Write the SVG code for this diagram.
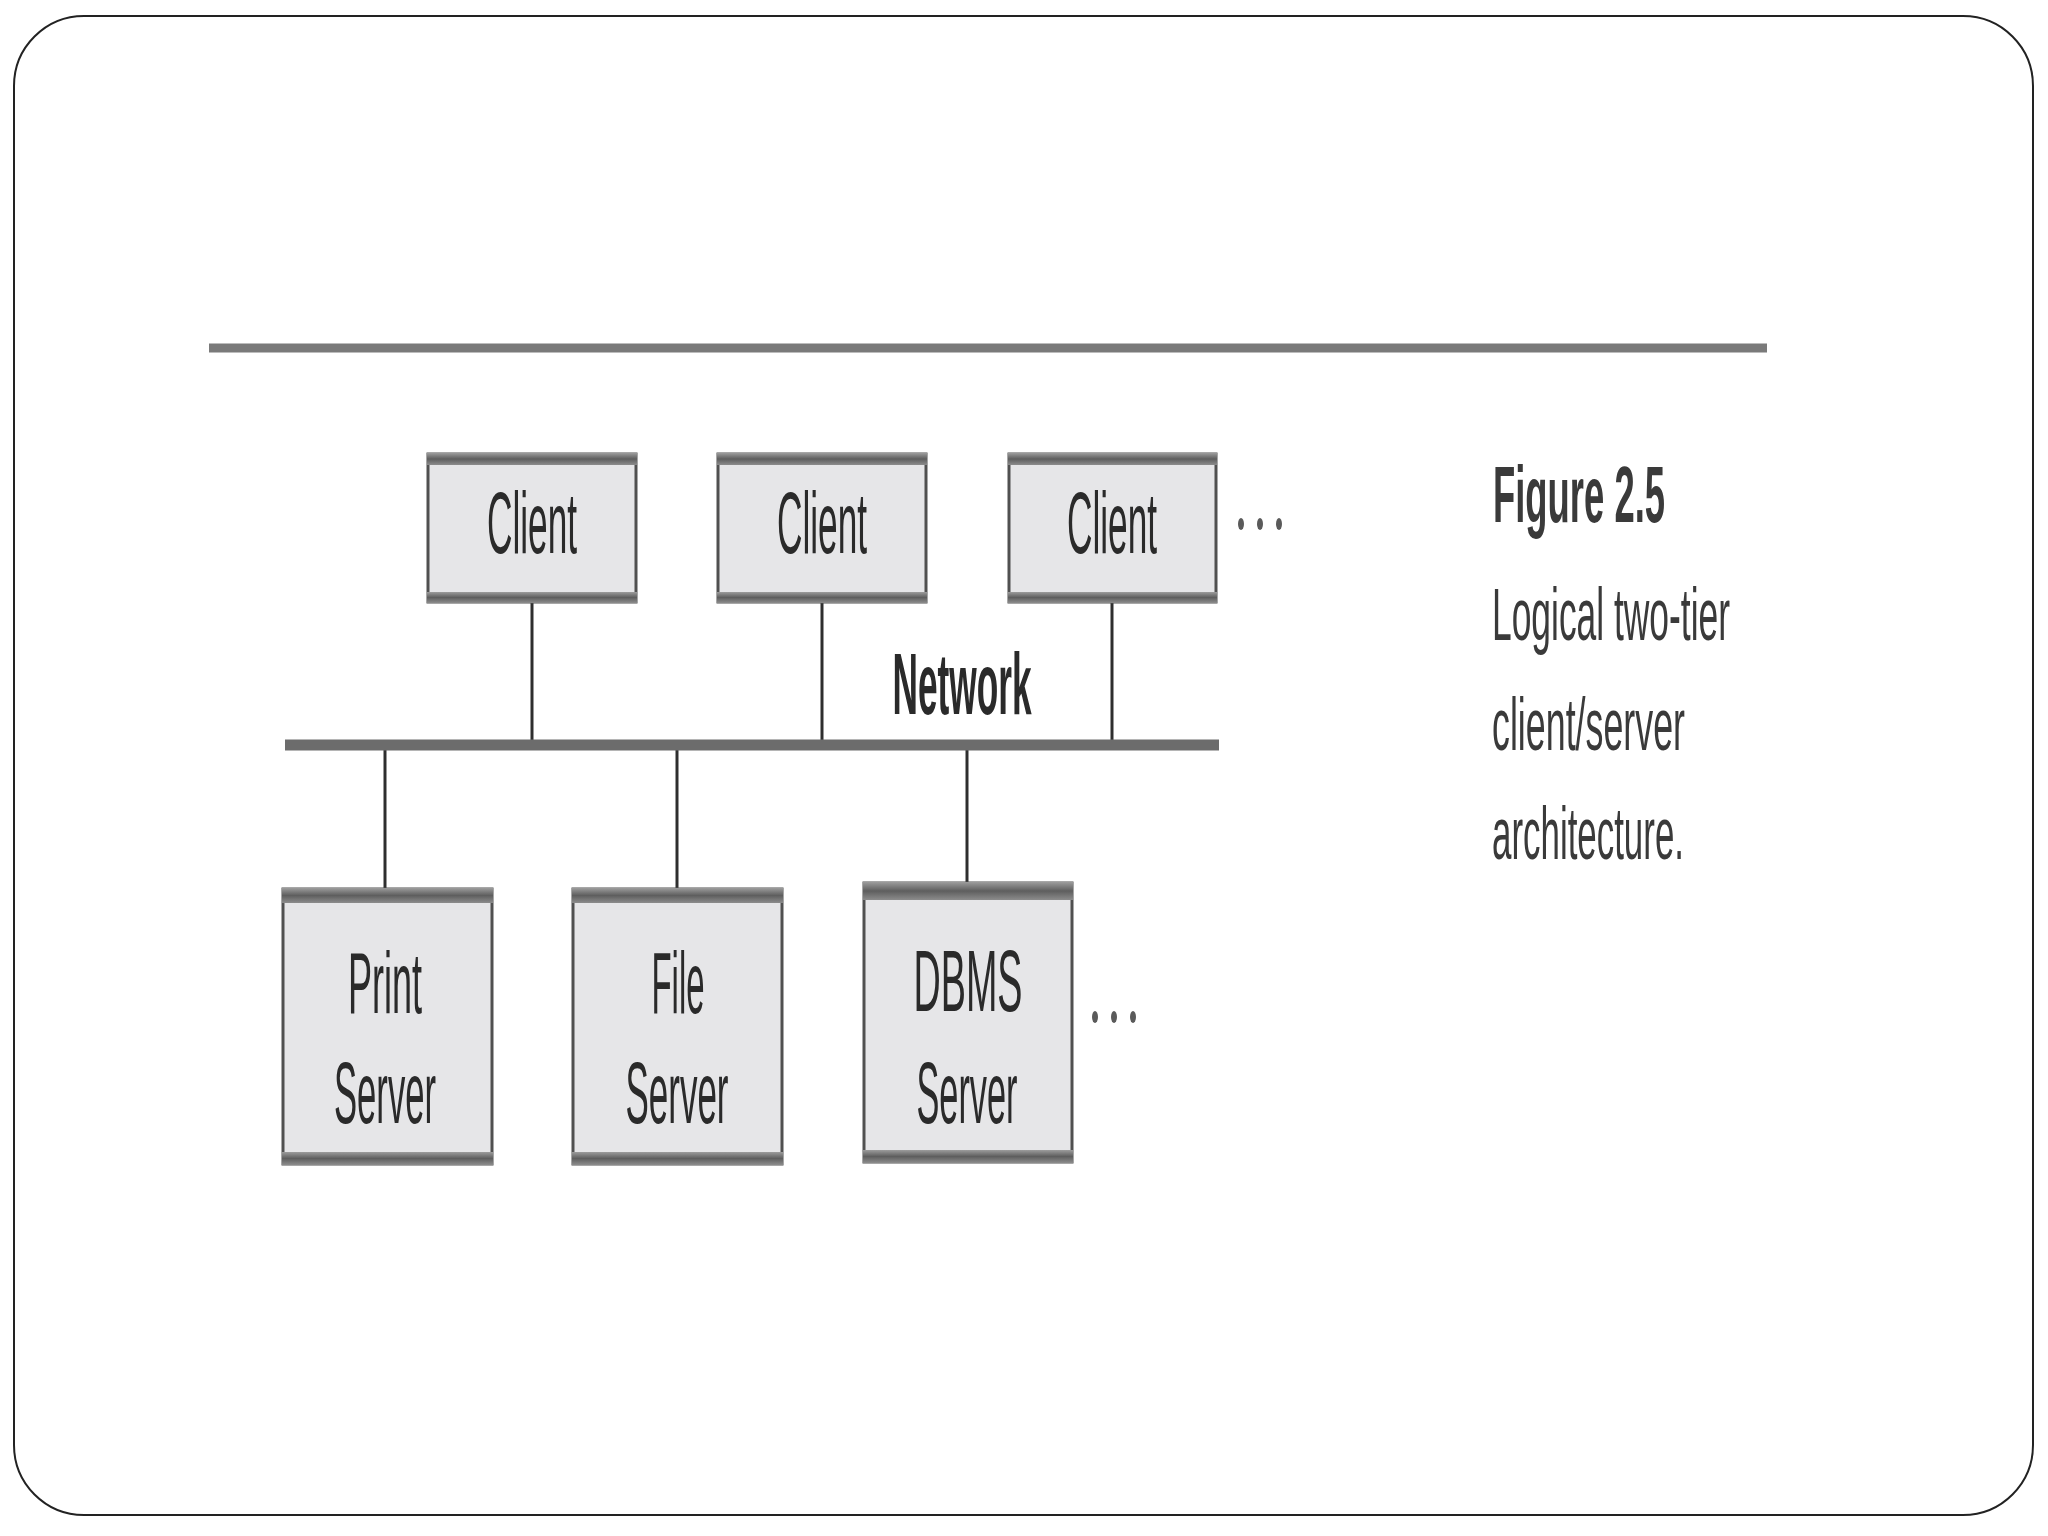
<svg xmlns="http://www.w3.org/2000/svg" width="2048" height="1536" viewBox="0 0 2048 1536">
<defs>
<linearGradient id="band" x1="0" y1="0" x2="0" y2="1">
<stop offset="0" stop-color="#9c9c9c"/>
<stop offset="0.5" stop-color="#5e5e5e"/>
<stop offset="1" stop-color="#8c8c8c"/>
</linearGradient>
<style>
.box{fill:#e6e6e8;stroke:#505050;stroke-width:3}
.band{fill:url(#band)}
.lbl{font-family:"Liberation Sans",Arial,sans-serif;font-size:88px;fill:#2a2a2a;text-anchor:middle}
.bold{font-weight:bold}
.conn{stroke:#2f2f2f;stroke-width:3;fill:none}
.cap{font-family:"Liberation Sans",Arial,sans-serif;fill:#3a3a3a}
.dot{fill:#5a5a5a}
</style>
</defs>
<rect width="2048" height="1536" fill="#ffffff"/>
<g id="frame">
<rect x="14" y="16" width="2019" height="1499" rx="70" ry="70" fill="#ffffff" stroke="#222" stroke-width="2"/>
</g>
<g id="rule">
<line x1="209" y1="348" x2="1767" y2="348" stroke="#7a7a7a" stroke-width="9"/>
</g>
<g id="connectors">
<line class="conn" x1="532" y1="603" x2="532" y2="745"/>
<line class="conn" x1="822" y1="603" x2="822" y2="745"/>
<line class="conn" x1="1112" y1="603" x2="1112" y2="745"/>
<line class="conn" x1="385" y1="745" x2="385" y2="890"/>
<line class="conn" x1="677" y1="745" x2="677" y2="890"/>
<line class="conn" x1="967" y1="745" x2="967" y2="884"/>
</g>
<g id="network">
<line x1="285" y1="745" x2="1219" y2="745" stroke="#6c6c6c" stroke-width="11"/>
<text class="lbl bold" x="962" y="714" textLength="139" lengthAdjust="spacingAndGlyphs" font-size="92">Network</text>
</g>
<g id="client1">
<rect class="box" x="428" y="454" width="208" height="148"/>
<rect class="band" x="427" y="453" width="210" height="12"/>
<rect class="band" x="427" y="592" width="210" height="11"/>
<text class="lbl" x="532" y="553" textLength="90" lengthAdjust="spacingAndGlyphs">Client</text>
</g>
<g id="client2">
<rect class="box" x="718" y="454" width="208" height="148"/>
<rect class="band" x="717" y="453" width="210" height="12"/>
<rect class="band" x="717" y="592" width="210" height="11"/>
<text class="lbl" x="822" y="553" textLength="90" lengthAdjust="spacingAndGlyphs">Client</text>
</g>
<g id="client3">
<rect class="box" x="1009" y="454" width="207" height="148"/>
<rect class="band" x="1008" y="453" width="209" height="12"/>
<rect class="band" x="1008" y="592" width="209" height="11"/>
<text class="lbl" x="1112" y="553" textLength="90" lengthAdjust="spacingAndGlyphs">Client</text>
</g>
<g id="more-clients">
<ellipse class="dot" cx="1241" cy="524" rx="3" ry="6"/>
<ellipse class="dot" cx="1260" cy="524" rx="3" ry="6"/>
<ellipse class="dot" cx="1279" cy="524" rx="3" ry="6"/>
</g>
<g id="print-server">
<rect class="box" x="283" y="889" width="209" height="275"/>
<rect class="band" x="282" y="888" width="211" height="15"/>
<rect class="band" x="282" y="1152" width="211" height="13"/>
<text class="lbl" x="385" y="1013" textLength="74" lengthAdjust="spacingAndGlyphs">Print</text>
<text class="lbl" x="385" y="1123" textLength="102" lengthAdjust="spacingAndGlyphs">Server</text>
</g>
<g id="file-server">
<rect class="box" x="573" y="889" width="209" height="275"/>
<rect class="band" x="572" y="888" width="211" height="15"/>
<rect class="band" x="572" y="1152" width="211" height="13"/>
<text class="lbl" x="678" y="1013" textLength="53" lengthAdjust="spacingAndGlyphs">File</text>
<text class="lbl" x="677" y="1123" textLength="103" lengthAdjust="spacingAndGlyphs">Server</text>
</g>
<g id="dbms-server">
<rect class="box" x="864" y="883" width="208" height="279"/>
<rect class="band" x="863" y="882" width="210" height="18"/>
<rect class="band" x="863" y="1150" width="210" height="13"/>
<text class="lbl" x="968" y="1011" textLength="109" lengthAdjust="spacingAndGlyphs">DBMS</text>
<text class="lbl" x="967" y="1123" textLength="101" lengthAdjust="spacingAndGlyphs">Server</text>
</g>
<g id="more-servers">
<ellipse class="dot" cx="1095" cy="1017" rx="3" ry="6"/>
<ellipse class="dot" cx="1114" cy="1017" rx="3" ry="6"/>
<ellipse class="dot" cx="1133" cy="1017" rx="3" ry="6"/>
</g>
<g id="caption">
<text class="cap bold" x="1493" y="522" font-size="80" fill="#151515" textLength="172" lengthAdjust="spacingAndGlyphs">Figure 2.5</text>
<text class="cap" x="1492" y="640" font-size="74" textLength="238" lengthAdjust="spacingAndGlyphs">Logical two-tier</text>
<text class="cap" x="1492" y="750" font-size="74" textLength="193" lengthAdjust="spacingAndGlyphs">client/server</text>
<text class="cap" x="1492" y="859" font-size="74" textLength="192" lengthAdjust="spacingAndGlyphs">architecture.</text>
</g>
</svg>
